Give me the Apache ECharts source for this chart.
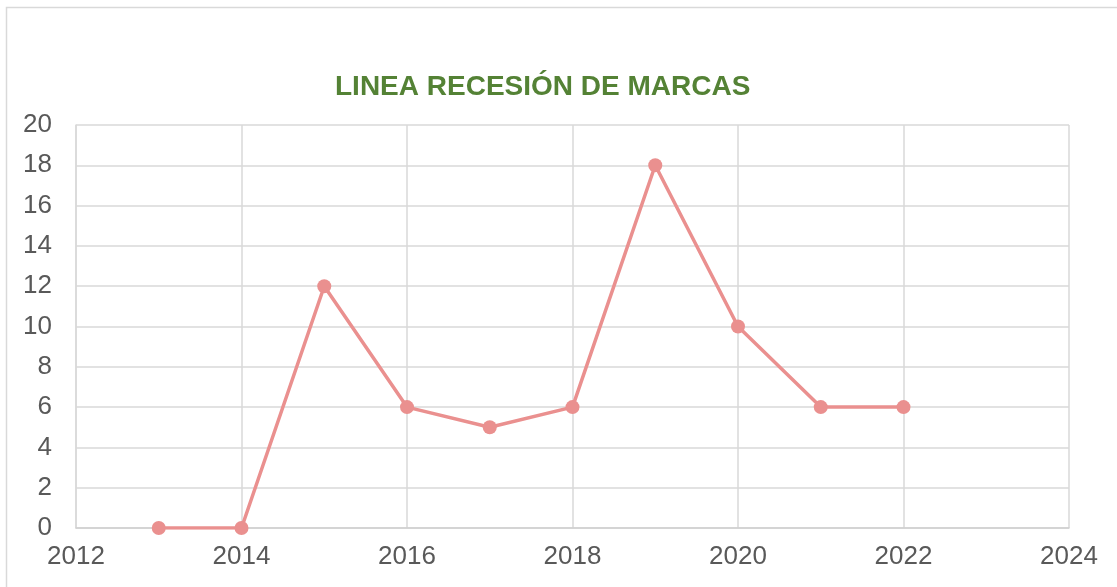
<!DOCTYPE html>
<html>
<head>
<meta charset="utf-8">
<script src="https://cdn.jsdelivr.net/npm/echarts@6/dist/echarts.min.js"></script>
<style>
html, body { margin: 0; padding: 0; background: #fff; }
#chart { width: 1117px; height: 587px; }
</style>
</head>
<body>
<div id="chart"></div>
<script>
var years = [2013, 2014, 2015, 2016, 2017, 2018, 2019, 2020, 2021, 2022];
var marcas = [0, 0, 12, 6, 5, 6, 18, 10, 6, 6];

var points = years.map(function (y, i) { return [y, marcas[i]]; });

var _chart = echarts.init(document.getElementById('chart'));
var option = {
    animation: false,
    title: {
        text: 'LINEA RECESIÓN DE MARCAS',
        left: 330,
        top: 68,
        textStyle: {
            fontFamily: 'Liberation Sans, Arial',
            fontSize: 28,
            fontWeight: 'bold',
            color: '#548235'
        }
    },
    graphic: [
        {
            type: 'rect',
            shape: { x: 6.5, y: 7.5, width: 1200, height: 700 },
            style: { fill: 'none', stroke: '#d9d9d9', lineWidth: 1.5 }
        }
    ],
    grid: {
        left: 76,
        right: 48,
        top: 125,
        bottom: 59
    },
    xAxis: {
        type: 'value',
        min: 2012,
        max: 2024,
        interval: 2,
        axisLine: { show: true, lineStyle: { color: '#d0d0d0', width: 1.5 } },
        axisTick: { show: false },
        splitLine: { show: true, lineStyle: { color: '#d9d9d9', width: 1.5 } },
        axisLabel: {
            margin: 16,
            formatter: function (v) { return String(v); },
            fontFamily: 'Liberation Sans, Arial',
            fontSize: 26,
            color: '#595959'
        }
    },
    yAxis: {
        type: 'value',
        min: 0,
        max: 20,
        interval: 2,
        axisLine: { show: true, lineStyle: { color: '#d9d9d9', width: 1.5 } },
        axisTick: { show: false },
        splitLine: { show: true, lineStyle: { color: '#d9d9d9', width: 1.5 } },
        axisLabel: {
            margin: 24,
            fontFamily: 'Liberation Sans, Arial',
            fontSize: 26,
            color: '#595959'
        }
    },
    series: [
        {
            type: 'line',
            data: points,
            symbol: 'circle',
            symbolSize: 14,
            lineStyle: { color: '#ea908f', width: 3.5 },
            itemStyle: { color: '#ea908f' }
        }
    ]
};
_chart.setOption(option);
</script>
</body>
</html>
